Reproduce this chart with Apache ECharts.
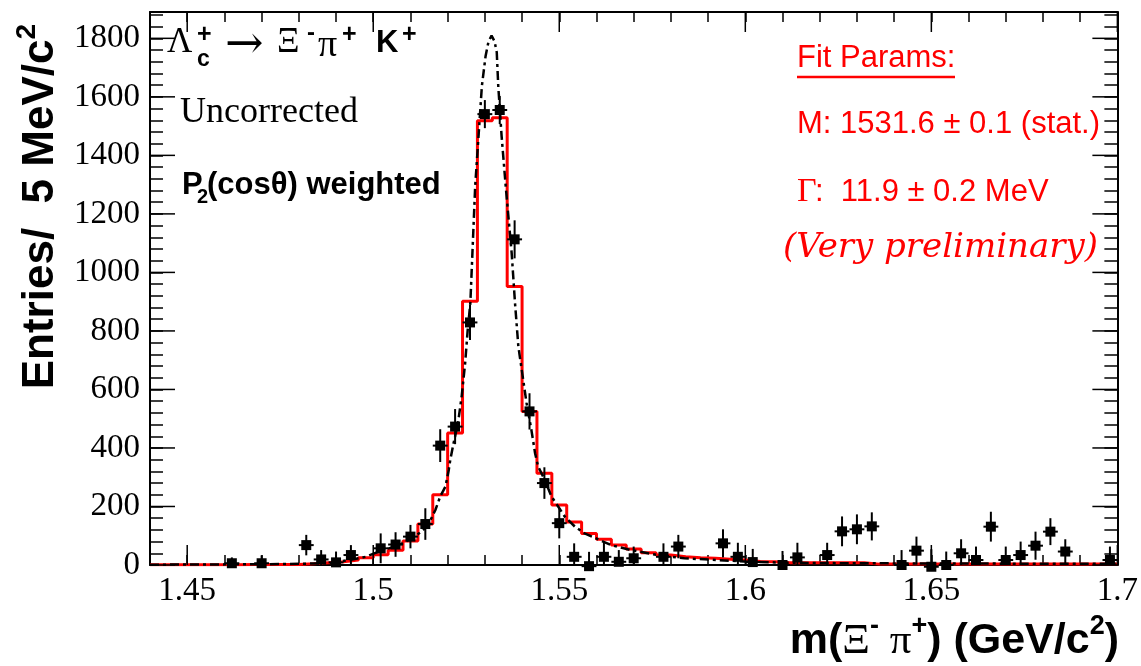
<!DOCTYPE html>
<html><head><meta charset="utf-8">
<script src="https://cdn.jsdelivr.net/npm/echarts@6/dist/echarts.min.js"></script>
<style>html,body{margin:0;padding:0;background:#fff}#c{width:1141px;height:666px}</style>
</head><body><div id="c"></div>
<script>
// ---- axis ranges & ticks ----
const xMin = 1.44, xMax = 1.70, yMin = 0, yMax = 1890;
const xMajorTicks = [1.45, 1.5, 1.55, 1.6, 1.65, 1.7];
const xTickLabels = ['1.45', '1.5', '1.55', '1.6', '1.65', '1.7'];
const yMajorTicks = [0, 200, 400, 600, 800, 1000, 1200, 1400, 1600, 1800];
const yTickLabels = ['0', '200', '400', '600', '800', '1000', '1200', '1400', '1600', '1800'];

// ---- data points (bin centres, entries, errors) ----
const pointX = [1.462, 1.470, 1.482, 1.486, 1.490, 1.494, 1.502, 1.506, 1.510, 1.514,
  1.518, 1.522, 1.526, 1.530, 1.534, 1.538, 1.542, 1.546, 1.550, 1.554,
  1.558, 1.562, 1.566, 1.570, 1.578, 1.582, 1.594, 1.598, 1.602, 1.610,
  1.614, 1.622, 1.626, 1.630, 1.634, 1.642, 1.646, 1.650, 1.654, 1.658,
  1.662, 1.666, 1.670, 1.674, 1.678, 1.682, 1.686, 1.698];
const pointY = [6, 6, 68, 19, 9, 34, 57, 70, 97, 140,
  408, 473, 829, 1541, 1555, 1113, 525, 280, 143, 28,
  -4, 28, 11, 23, 28, 63, 74, 28, 10, 0,
  26, 34, 115, 122, 132, 0, 49, -6, 0, 40,
  17, 131, 17, 34, 66, 114, 46, 17];
const pointErr = [20, 27, 35, 32, 37, 34, 51, 42, 40, 54,
  56, 60, 60, 48, 48, 65, 62, 54, 52, 46,
  49, 51, 40, 40, 46, 40, 48, 48, 45, 48,
  50, 42, 51, 51, 48, 51, 48, 60, 46, 48,
  46, 51, 46, 46, 48, 46, 42, 46];
const binWidth = 0.004;

// ---- red fit histogram (65 bins from 1.44) ----
const histValues = [1, 1, 1, 1, 1, 1, 2, 2, 2, 2,
  4, 8, 11, 17, 25, 35, 50, 82, 140, 240,
  451, 901, 1518, 1529, 952, 525, 314, 205, 147, 108,
  88, 68, 55, 42, 34, 28, 25, 23, 20, 17,
  12, 11, 8, 8, 8, 8, 8, 8, 3, 3,
  3, 3, 3, 3, 3, 3, 3, 3, 3, 3,
  3, 3, 3, 3, 3];

// ---- dash-dotted fit curve ----
const fitX = [1.4400, 1.4748, 1.4882, 1.4935, 1.4980, 1.5015, 1.5042, 1.5069, 1.5096, 1.5118,
  1.5140, 1.5154, 1.5167, 1.5180, 1.5194, 1.5203, 1.5207, 1.5216, 1.5220, 1.5229,
  1.5238, 1.5247, 1.5254, 1.5261, 1.5274, 1.5283, 1.5292, 1.5302, 1.5310, 1.5318,
  1.5326, 1.5332, 1.5336, 1.5345, 1.5356, 1.5372, 1.5381, 1.5390, 1.5403, 1.5412,
  1.5425, 1.5435, 1.5443, 1.5461, 1.5479, 1.5497, 1.5515, 1.5542, 1.5568, 1.5604,
  1.5639, 1.5693, 1.5764, 1.5836, 1.5925, 1.6014, 1.6103, 1.6273, 1.6540, 1.7000];
const fitY = [1, 3, 6, 17, 28, 46, 57, 68, 86, 103,
  126, 154, 188, 234, 268, 325, 359, 417, 439, 496,
  580, 690, 805, 896, 1295, 1466, 1637, 1740, 1790, 1809,
  1790, 1752, 1637, 1466, 1295, 1067, 896, 747, 633, 554,
  462, 382, 337, 291, 234, 200, 165, 131, 108, 88,
  68, 51, 34, 23, 17, 11, 8, 6, 5, 4];

// ---- build library tables ----
const histData = histValues.map((v, i) => [+(xMin + i * binWidth).toFixed(3), v]);
histData.push([xMax, histValues[histValues.length - 1]]);
const pointData = pointX.map((x, i) => [x, pointY[i], pointErr[i]]);
const fitData = fitX.map((x, i) => [x, fitY[i]]);

function labelFor(v, ticks, labels) {
  for (let i = 0; i < ticks.length; i++) if (Math.abs(v - ticks[i]) < 1e-6) return labels[i];
  return '';
}

const chart = echarts.init(document.getElementById('c'), null, {renderer: 'canvas'});
const black = '#000';
const red = '#ff0000';
const axisCommon = {
  type: 'value', splitLine: {show: false},
  axisLine: {show: true, onZero: false, lineStyle: {color: black, width: 2}},
  axisTick: {show: true, inside: true, lineStyle: {color: black, width: 1.5}}
};

function tickRender(isX) {
  return function (params, api) {
    const v = api.value(0);
    const cs = params.coordSys;
    if (isX) {
      const p = api.coord([v, yMin]);
      return {type: 'group', children: [
        {type: 'line', shape: {x1: p[0], y1: cs.y + cs.height, x2: p[0], y2: cs.y + cs.height - 20}, style: {stroke: black, lineWidth: 1.5}},
        {type: 'line', shape: {x1: p[0], y1: cs.y, x2: p[0], y2: cs.y + 20}, style: {stroke: black, lineWidth: 1.5}}
      ]};
    }
    const p = api.coord([xMin, v]);
    return {type: 'group', children: [
      {type: 'line', shape: {x1: cs.x, y1: p[1], x2: cs.x + 25, y2: p[1]}, style: {stroke: black, lineWidth: 1.5}},
      {type: 'line', shape: {x1: cs.x + cs.width, y1: p[1], x2: cs.x + cs.width - 25, y2: p[1]}, style: {stroke: black, lineWidth: 1.5}}
    ]};
  };
}

function T(x, y, text, font, extra) {
  return Object.assign({type: 'text', x: x, y: y, silent: true, z: 100,
    style: Object.assign({text: text, fill: black, align: 'left', verticalAlign: 'middle'}, font)}, extra || {});
}
const serif = (s, c) => ({fontFamily: 'Liberation Serif', fontSize: s, fill: c || black});
const sansB = (s, c) => ({fontFamily: 'Liberation Sans', fontWeight: 'bold', fontSize: s, fill: c || black});
const sans = (s, c) => ({fontFamily: 'Liberation Sans', fontSize: s, fill: c || black});

const option = {
  animation: false,
  backgroundColor: '#fff',
  grid: {left: 150, right: 19, top: 12, bottom: 101, containLabel: false},
  xAxis: [
    Object.assign({}, axisCommon, {position: 'bottom', min: xMin, max: xMax, interval: 0.01,
      axisTick: {show: true, inside: true, length: 10, lineStyle: {color: black, width: 1.5}},
      axisLabel: {show: true, margin: 10, color: black, fontFamily: 'Liberation Serif', fontSize: 33,
        formatter: v => labelFor(v, xMajorTicks, xTickLabels)}}),
    Object.assign({}, axisCommon, {position: 'top', min: xMin, max: xMax, interval: 0.01,
      axisTick: {show: true, inside: true, length: 10, lineStyle: {color: black, width: 1.5}},
      axisLabel: {show: false}})
  ],
  yAxis: [
    Object.assign({}, axisCommon, {position: 'left', min: yMin, max: yMax, interval: 40,
      axisTick: {show: true, inside: true, length: 13, lineStyle: {color: black, width: 1.5}},
      axisLabel: {show: true, margin: 10, color: black, fontFamily: 'Liberation Serif', fontSize: 33,
        showMaxLabel: false, formatter: v => labelFor(v, yMajorTicks, yTickLabels)}}),
    Object.assign({}, axisCommon, {position: 'right', min: yMin, max: yMax, interval: 40,
      axisTick: {show: true, inside: true, length: 13, lineStyle: {color: black, width: 1.5}},
      axisLabel: {show: false}})
  ],
  series: [
    {type: 'line', name: 'fit histogram', data: histData, step: 'end', symbol: 'none', z: 2,
      lineStyle: {color: red, width: 3}},
    {type: 'line', name: 'fit', data: fitData, symbol: 'none', z: 3,
      lineStyle: {color: black, width: 2.5, type: [9, 4, 3, 4]}},
    {type: 'custom', name: 'data', data: pointData, z: 4, clip: false,
      renderItem: function (params, api) {
        const x = api.value(0), y = api.value(1), e = api.value(2);
        const cs = params.coordSys;
        const c = api.coord([x, y]);
        const l = api.coord([x - binWidth / 2, y]);
        const r = api.coord([x + binWidth / 2, y]);
        const t = api.coord([x, y + e]);
        const b = api.coord([x, y - e]);
        const bottom = Math.min(b[1], cs.y + cs.height);
        return {type: 'group', children: [
          {type: 'line', shape: {x1: l[0], y1: c[1], x2: r[0], y2: c[1]}, style: {stroke: black, lineWidth: 2}},
          {type: 'line', shape: {x1: c[0], y1: Math.max(t[1], cs.y), x2: c[0], y2: bottom}, style: {stroke: black, lineWidth: 2}},
          {type: 'rect', shape: {x: c[0] - 5, y: c[1] - 5, width: 10, height: 10}, style: {fill: black}}
        ]};
      }},
    {type: 'custom', name: 'xmajor', data: xMajorTicks.map(v => [v]), z: 5, silent: true, renderItem: tickRender(true)},
    {type: 'custom', name: 'ymajor', data: yMajorTicks.map(v => [v]), z: 5, silent: true, renderItem: tickRender(false)}
  ],
  graphic: [
    // decay label
    T(167, 43, 'Λ', serif(35)),
    T(197, 60, 'c', sansB(23)),
    T(197, 35, '+', sansB(25)),
    T(225, 46, '→', {fontFamily: 'DejaVu Serif', fontSize: 46, fill: black}),
    T(277, 43, 'Ξ', serif(35)),
    T(307, 33, '-', sansB(24)),
    T(318, 46, 'π', serif(38)),
    T(342, 35, '+', sansB(25)),
    T(376, 43, 'K', sansB(31)),
    T(402, 35, '+', sansB(25)),
    // annotations
    T(180, 113, 'Uncorrected', serif(36)),
    T(182, 185, 'P', sansB(31)),
    T(197, 197, '2', sansB(20)),
    T(207, 185, '(cosθ) weighted', sansB(31)),
    // fit params
    T(797, 58, 'Fit Params:', sans(31, red)),
    {type: 'line', silent: true, z: 100, shape: {x1: 797, y1: 77, x2: 955, y2: 77}, style: {stroke: red, lineWidth: 2.5}},
    T(797, 124, 'M: 1531.6 ± 0.1 (stat.)', sans(31, red)),
    T(797, 192, 'Γ', serif(34, red)),
    T(815, 192, ':  11.9 ± 0.2 MeV', sans(31, red)),
    T(783, 248, '(Very preliminary)', {fontFamily: 'DejaVu Serif', fontStyle: 'italic', fontSize: 34, fill: red}),
    // axis titles
    {type: 'text', silent: true, z: 100, x: 38, y: 24, rotation: Math.PI / 2,
      style: {text: '{b|Entries/  5 MeV/c}{s|2}', align: 'right', verticalAlign: 'middle',
        rich: {b: {fontFamily: 'Liberation Sans', fontWeight: 'bold', fontSize: 44, fill: black, lineHeight: 50, verticalAlign: 'bottom'},
               s: {fontFamily: 'Liberation Sans', fontWeight: 'bold', fontSize: 28, fill: black, lineHeight: 50, verticalAlign: 'top', padding: [0, 0, 18, 0]}}}},
    {type: 'text', silent: true, z: 100, x: 1119, y: 638,
      style: {text: '{b|m(}{g|Ξ}{s|-}{g| π}{s|+}{b|) (GeV/c}{s|2}{b|)}', align: 'right', verticalAlign: 'middle',
        rich: {b: {fontFamily: 'Liberation Sans', fontWeight: 'bold', fontSize: 43, fill: black, lineHeight: 50, verticalAlign: 'bottom'},
               g: {fontFamily: 'Liberation Serif', fontSize: 43, fill: black, lineHeight: 50, verticalAlign: 'bottom'},
               s: {fontFamily: 'Liberation Sans', fontWeight: 'bold', fontSize: 27, fill: black, lineHeight: 50, verticalAlign: 'top', padding: [0, 0, 18, 0]}}}}
  ]
};
chart.setOption(option);
</script>
</body></html>
